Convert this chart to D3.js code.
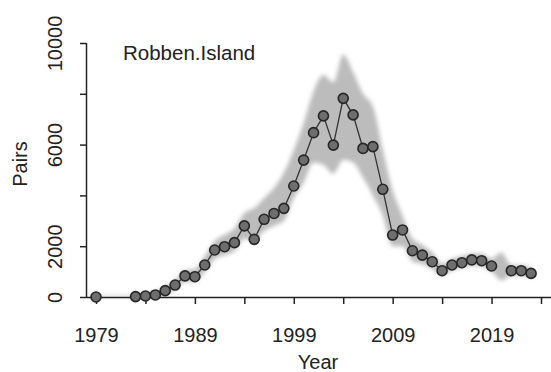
<!DOCTYPE html>
<html>
<head>
<meta charset="utf-8">
<script src="https://cdn.jsdelivr.net/npm/d3@7"></script>
<style>
  body { margin: 0; background: #fff; }
  text { font-family: "Liberation Sans", Arial, sans-serif; fill: #222; }
</style>
</head>
<body>
<div id="chart"></div>
<script>
// Data
const years = d3.range(1979, 2024)
const pairs = [0, null, null, null, 15, 40, 80, 250, 470, 830,
  800, 1260, 1850, 1980, 2140, 2800, 2270, 3060, 3290, 3490,
  4370, 5390, 6470, 7130, 5980, 7820, 7170, 5850, 5920, 4240,
  2440, 2640, 1820, 1650, 1390, 1035, 1260, 1350, 1460, 1430,
  1220, null, 1035, 1035, 930]
const lower = [0, 0, 0, 0, 0, 0, 0, 100, 300, 600,
  600, 1000, 1500, 1650, 1800, 2300, 2200, 2600, 2800, 3000,
  3900, 4500, 5300, 5200, 4850, 5400, 5300, 4700, 4000, 3200,
  2000, 2000, 1400, 1300, 1100, 850, 1050, 1150, 1250, 1200,
  1000, 650, 850, 850, 750]
const upper = [60, 60, 60, 60, 80, 120, 200, 400, 650, 1050,
  1100, 1600, 2200, 2450, 2700, 3300, 3500, 3900, 4300, 4900,
  5800, 6850, 8100, 8750, 8450, 9550, 8850, 8000, 7500, 5800,
  4200, 3200, 2300, 2050, 1750, 1300, 1500, 1600, 1700, 1700,
  1500, 1750, 1250, 1250, 1150]
const xTicks = d3.range(1979, 2025, 5)
const xLabels = [1979, 1989, 1999, 2009, 2019]
const yTicks = [0, 2000, 4000, 6000, 8000, 10000]
const yLabels = [0, 2000, 6000, 10000]

const WIDTH = 551
const HEIGHT = 372

const svg = d3.select('#chart')
  .append('svg')
  .attr('width', WIDTH)
  .attr('height', HEIGHT)
  .style('background', '#fff')

const x = d3.scaleLinear().domain([1979, 2024]).range([96, 541])
const y = d3.scaleLinear().domain([0, 10000]).range([297, 43])

const rows = years.map((yr, i) => ({ year: yr, v: pairs[i], lo: lower[i], hi: upper[i] }))

// blur for the confidence band
svg.append('defs').append('filter')
  .attr('id', 'soft')
  .attr('x', '-10%').attr('y', '-10%').attr('width', '120%').attr('height', '120%')
  .append('feGaussianBlur')
  .attr('stdDeviation', 2.2)

// Band
const band = d3.area()
  .x(d => x(d.year))
  .y0(d => y(d.lo))
  .y1(d => y(d.hi))
  .curve(d3.curveMonotoneX)

svg.append('path')
  .datum(rows)
  .attr('d', band)
  .attr('fill', '#bcbcbc')
  .attr('filter', 'url(#soft)')

// Axes
const xAxis = d3.axisBottom(x)
  .tickValues(xTicks)
  .tickSize(7)
  .tickFormat(d => xLabels.includes(d) ? d : '')

const gx = svg.append('g')
  .attr('transform', 'translate(0, 297)')
  .call(xAxis)
gx.select('.domain').attr('d', 'M86,0.5H551')
gx.selectAll('line, .domain').attr('stroke', '#222').attr('stroke-width', 1.5)
gx.selectAll('text')
  .attr('y', 31)
  .attr('font-size', 20)
  .attr('fill', '#1a1a1a')

const yAxis = d3.axisLeft(y)
  .tickValues(yTicks)
  .tickSize(6)
  .tickFormat(d => yLabels.includes(d) ? d : '')

const gy = svg.append('g')
  .attr('transform', 'translate(86, 0)')
  .call(yAxis)
gy.selectAll('line, .domain').attr('stroke', '#222').attr('stroke-width', 1.5)
gy.select('.domain').attr('d', `M0.5,${y(10000)}V${y(0)}`)
gy.selectAll('text')
  .attr('x', null).attr('dy', null)
  .attr('text-anchor', 'middle')
  .attr('transform', 'translate(-24, 0) rotate(-90)')
  .attr('font-size', 20)
  .attr('fill', '#1a1a1a')

// Line with gaps
const line = d3.line()
  .defined(d => d.v !== null)
  .x(d => x(d.year))
  .y(d => y(d.v))

svg.append('path')
  .datum(rows)
  .attr('d', line)
  .attr('fill', 'none')
  .attr('stroke', '#333')
  .attr('stroke-width', 1.3)

svg.selectAll('circle.pt')
  .data(rows.filter(d => d.v !== null))
  .enter()
  .append('circle')
  .attr('class', 'pt')
  .attr('cx', d => x(d.year))
  .attr('cy', d => y(d.v))
  .attr('r', 5)
  .attr('fill', '#6e6e6e')
  .attr('stroke', '#262626')
  .attr('stroke-width', 1.6)

// Labels
svg.append('text')
  .attr('x', 123)
  .attr('y', 60)
  .attr('font-size', 20.5)
  .text('Robben.Island')

svg.append('text')
  .attr('transform', 'translate(27, 164) rotate(-90)')
  .attr('text-anchor', 'middle')
  .attr('font-size', 20)
  .text('Pairs')

svg.append('text')
  .attr('x', 318)
  .attr('y', 369)
  .attr('text-anchor', 'middle')
  .attr('font-size', 20)
  .text('Year')
</script>
</body>
</html>
